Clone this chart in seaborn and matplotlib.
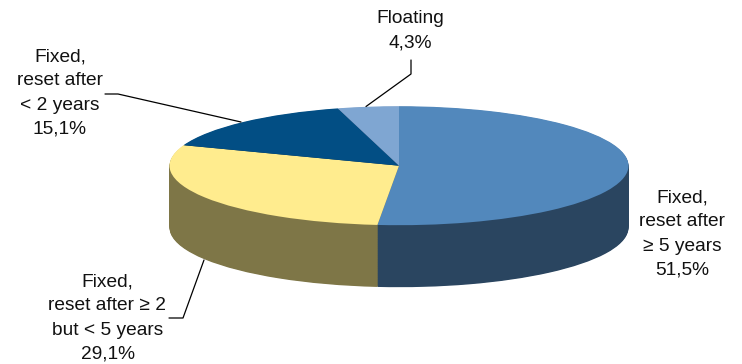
import matplotlib
matplotlib.use("Agg")
import matplotlib.pyplot as plt
import numpy as np
import seaborn as sns

# Mortgage shares by interest-rate fixation period, percent
categories = ["Fixed,\nreset after\n≥ 5 years",
              "Fixed,\nreset after ≥ 2\nbut < 5 years",
              "Fixed,\nreset after\n< 2 years",
              "Floating"]
shares = [51.5, 29.1, 15.1, 4.3]
top_colors = ["#5288BC", "#FFEC8E", "#024E84", "#7FA6D2"]
side_colors = ["#2A4560", "#7E7647", "#012A48", "#44587A"]

W, H = 742, 364
CX, CY, RX, RY, DEPTH = 399.0, 165.7, 229.5, 59.5, 62.0

sns.set_theme(style="white")
plt.rcParams["font.family"] = ["Liberation Sans", "DejaVu Sans"]

fig = plt.figure(figsize=(W / 100, H / 100), dpi=100, facecolor="white")
ax = fig.add_axes([0, 0, 1, 1])


def pie_layer(colors, drop):
    # One elliptical disc of the cylinder, clockwise from twelve o'clock
    ax.pie(shares, colors=sns.color_palette(colors), startangle=90,
           counterclock=False, radius=1.0, center=(0, -drop),
           wedgeprops={"linewidth": 0}, normalize=True)


# Wall of the cylinder as a stack of dark discs, then the lit top face
for drop in np.linspace(DEPTH / RY, 0.01, 90):
    pie_layer(side_colors, drop)
pie_layer(top_colors, 0.0)

ax.set_aspect("auto")
ax.set_xlim(-CX / RX, (W - CX) / RX)
ax.set_ylim(-(H - CY) / RY, CY / RY)
ax.axis("off")


def fig_xy(x, y):
    return x / W, 1 - y / H


def decimal_comma(v):
    return f"{v:.1f}%".replace(".", ",")


# Labels, in the order of the shares
label_centres = [(682, 234), (107.5, 318), (60, 93), (410, 30.5)]
for name, share, (x, y) in zip(categories, shares, label_centres):
    fx, fy = fig_xy(x, y)
    fig.text(fx, fy, f"{name}\n{decimal_comma(share)}", ha="center",
             va="center", fontsize=13.8, color="#111111", linespacing=1.56,
             transform=fig.transFigure)

# Leader lines running from the labels to their slices
leaders = [
    [(169, 318), (183, 318), (204, 260)],
    [(105, 94), (118, 94), (241, 122)],
    [(411, 60), (411, 74), (366, 106.5)],
]
for path in leaders:
    xs, ys = zip(*[fig_xy(px, py) for px, py in path])
    fig.add_artist(plt.Line2D(xs, ys, color="black", lw=0.9,
                              transform=fig.transFigure))

fig.savefig("out.png", dpi=100, facecolor="white")
